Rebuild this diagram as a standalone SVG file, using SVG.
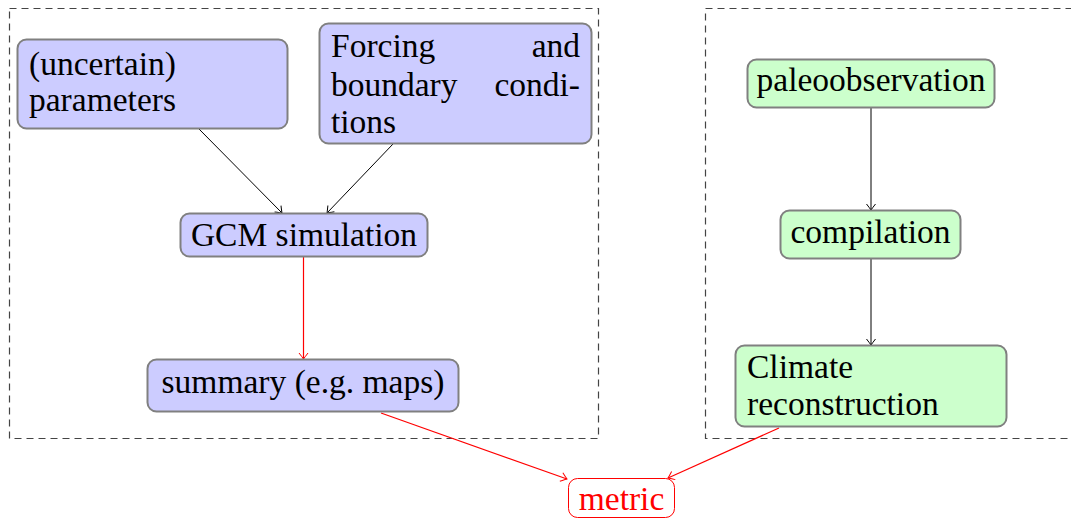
<svg xmlns="http://www.w3.org/2000/svg" width="1071" height="518" viewBox="0 0 1071 518">
<style>
.t{font-size:33.5px;fill:#000}
.blue{fill:#ccccff;stroke:#808080;stroke-width:2}
.green{fill:#ccffcc;stroke:#808080;stroke-width:2}
.frame{fill:none;stroke:#444;stroke-width:1.2;stroke-dasharray:7 5}
.c{text-anchor:middle}
.e{text-anchor:end}
.blk{stroke:#000;stroke-width:1;fill:none}
.red{stroke:#ff0000;stroke-width:1.2;fill:none}
</style>
<defs>
<marker id="ab" viewBox="-7 -6 8 12" refX="0" refY="0" markerWidth="8" markerHeight="12" markerUnits="userSpaceOnUse" orient="auto">
<path d="M-6,-4.5 Q-1.5,-1 0,0 Q-1.5,1 -6,4.5" fill="none" stroke="#000" stroke-width="1"/>
</marker>
<marker id="ar" viewBox="-7 -6 8 12" refX="0" refY="0" markerWidth="8" markerHeight="12" markerUnits="userSpaceOnUse" orient="auto">
<path d="M-6,-4.5 Q-1.5,-1 0,0 Q-1.5,1 -6,4.5" fill="none" stroke="#ff0000" stroke-width="1"/>
</marker>
</defs>
<rect class="frame" x="9.5" y="8.5" width="589" height="430"/>
<rect class="frame" x="705.5" y="8.5" width="380" height="430"/>
<g id="connectors">
<line class="blk" x1="199" y1="129" x2="282" y2="213" marker-end="url(#ab)"/>
<line class="blk" x1="393" y1="144" x2="327" y2="213" marker-end="url(#ab)"/>
<line class="red" x1="303.5" y1="257" x2="303.5" y2="359" marker-end="url(#ar)"/>
<line class="red" x1="381" y1="413" x2="567" y2="479" marker-end="url(#ar)"/>
<line class="red" x1="779" y1="428" x2="668" y2="478" marker-end="url(#ar)"/>
<line class="blk" x1="871" y1="108" x2="871" y2="210" marker-end="url(#ab)"/>
<line class="blk" x1="871" y1="259" x2="871" y2="345" marker-end="url(#ab)"/>
</g>
<g font-family="'Liberation Serif', 'DejaVu Serif', serif">
<g id="params">
<rect class="blue" x="17.5" y="39.5" width="270" height="89" rx="9"/>
<text class="t" x="29" y="75">(uncertain)</text>
<text class="t" x="29" y="111">parameters</text>
</g>
<g id="forcing">
<rect class="blue" x="319.5" y="23.5" width="272" height="120" rx="9"/>
<text class="t" x="331" y="57">Forcing</text>
<text class="t e" x="580" y="57">and</text>
<text class="t" x="331" y="96">boundary</text>
<text class="t e" x="580" y="96">condi-</text>
<text class="t" x="331" y="133">tions</text>
</g>
<g id="gcm">
<rect class="blue" x="180.5" y="213.5" width="247" height="43" rx="9"/>
<text class="t c" x="304" y="246">GCM simulation</text>
</g>
<g id="summary">
<rect class="blue" x="147.5" y="359.5" width="311" height="52" rx="9"/>
<text class="t c" x="303" y="393">summary (e.g. maps)</text>
</g>
<g id="paleo">
<rect class="green" x="747.5" y="59.5" width="247" height="48" rx="9"/>
<text class="t c" x="871" y="91">paleoobservation</text>
</g>
<g id="compilation">
<rect class="green" x="780.5" y="210.5" width="180" height="48" rx="9"/>
<text class="t c" x="870.5" y="243">compilation</text>
</g>
<g id="climate">
<rect class="green" x="735.5" y="345.5" width="271" height="81" rx="9"/>
<text class="t" x="747" y="378">Climate</text>
<text class="t" x="747" y="415">reconstruction</text>
</g>
<g id="metric">
<rect x="568.5" y="478.5" width="106" height="39" rx="9" fill="#fff" stroke="#ff0000" stroke-width="1"/>
<text class="t c" x="621.5" y="510" style="fill:#ff0000">metric</text>
</g>
</g>
</svg>
